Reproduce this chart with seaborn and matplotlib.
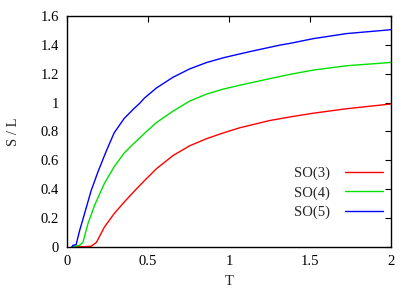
import pandas as pd
import matplotlib
matplotlib.use("Agg")
import matplotlib.pyplot as plt
import seaborn as sns

sns.set_style("white")
plt.rcParams['font.family'] = ['Liberation Serif', 'DejaVu Serif']
plt.rcParams['font.size'] = 10.5

# DATA

t_so3 = [0.03, 0.10, 0.148, 0.18, 0.23, 0.29, 0.352, 0.414, 0.448, 0.476, 0.55,
         0.653, 0.756, 0.86, 0.963, 1.066, 1.25, 1.375, 1.52, 1.725, 2.0]
s_so3 = [0.0, 0.0, 0.004, 0.03, 0.137, 0.23, 0.31, 0.385, 0.425, 0.457, 0.54,
         0.632, 0.70, 0.749, 0.789, 0.825, 0.875, 0.90, 0.926, 0.957, 0.99]

t_so4 = [0.03, 0.076, 0.097, 0.128, 0.17, 0.23, 0.29, 0.352, 0.414, 0.448, 0.476,
         0.55, 0.653, 0.756, 0.86, 0.963, 1.066, 1.25, 1.375, 1.52, 1.725, 2.0]
s_so4 = [0.0, 0.01, 0.03, 0.16, 0.29, 0.44, 0.555, 0.65, 0.72, 0.754, 0.785,
         0.86, 0.94, 1.01, 1.058, 1.093, 1.12, 1.165, 1.195, 1.225, 1.255, 1.278]

t_so5 = [0.03, 0.035, 0.055, 0.076, 0.107, 0.148, 0.19, 0.24, 0.29, 0.352, 0.414,
         0.448, 0.476, 0.55, 0.653, 0.756, 0.86, 0.963, 1.066, 1.128, 1.313,
         1.375, 1.52, 1.725, 2.0]
s_so5 = [0.0, 0.01, 0.015, 0.11, 0.23, 0.39, 0.52, 0.66, 0.79, 0.89, 0.96,
         0.995, 1.03, 1.10, 1.175, 1.233, 1.277, 1.31, 1.337, 1.353, 1.398,
         1.41, 1.443, 1.478, 1.505]

labels = ['SO(3)', 'SO(4)', 'SO(5)']
colors = ['#ff0000', '#00e000', '#0000ff']

x_ticks = [0, 0.5, 1, 1.5, 2]
x_ticklabels = ['0', '0.5', '1', '1.5', '2']
y_ticks = [0, 0.2, 0.4, 0.6, 0.8, 1.0, 1.2, 1.4, 1.6]
y_ticklabels = ['0', '0.2', '0.4', '0.6', '0.8', '1', '1.2', '1.4', '1.6']

df = pd.concat([
    pd.DataFrame({'T': t_so3, 'S': s_so3, 'group': labels[0]}),
    pd.DataFrame({'T': t_so4, 'S': s_so4, 'group': labels[1]}),
    pd.DataFrame({'T': t_so5, 'S': s_so5, 'group': labels[2]}),
])

# PLOT

fig = plt.figure(figsize=(4.15, 2.91), dpi=100)
ax = fig.add_axes([0.162, 0.152, 0.780, 0.793])

sns.lineplot(data=df, x='T', y='S', hue='group', hue_order=labels,
             palette=dict(zip(labels, colors)), linewidth=1.0,
             errorbar=None, sort=True, ax=ax)

ax.set_xlim(0, 2)
ax.set_ylim(0, 1.6)
ax.set_xticks(x_ticks)
ax.set_xticklabels(x_ticklabels)
ax.set_yticks(y_ticks)
ax.set_yticklabels(y_ticklabels)
ax.tick_params(direction='in', length=4, width=0.8, top=True, right=True,
               labelsize=10.5, pad=6, colors='black')
ax.set_xlabel('T', fontsize=10.5, labelpad=5)
ax.set_ylabel('S / L', fontsize=10.5, labelpad=15)
for s in ax.spines.values():
    s.set_color('black')
    s.set_linewidth(1.0)

ax.legend(loc='upper right', bbox_to_anchor=(1.015, 0.405), frameon=False,
          markerfirst=False, handlelength=2.6, labelspacing=0.42, fontsize=10.5,
          handletextpad=1.0)

fig.savefig('out.png', dpi=100)
